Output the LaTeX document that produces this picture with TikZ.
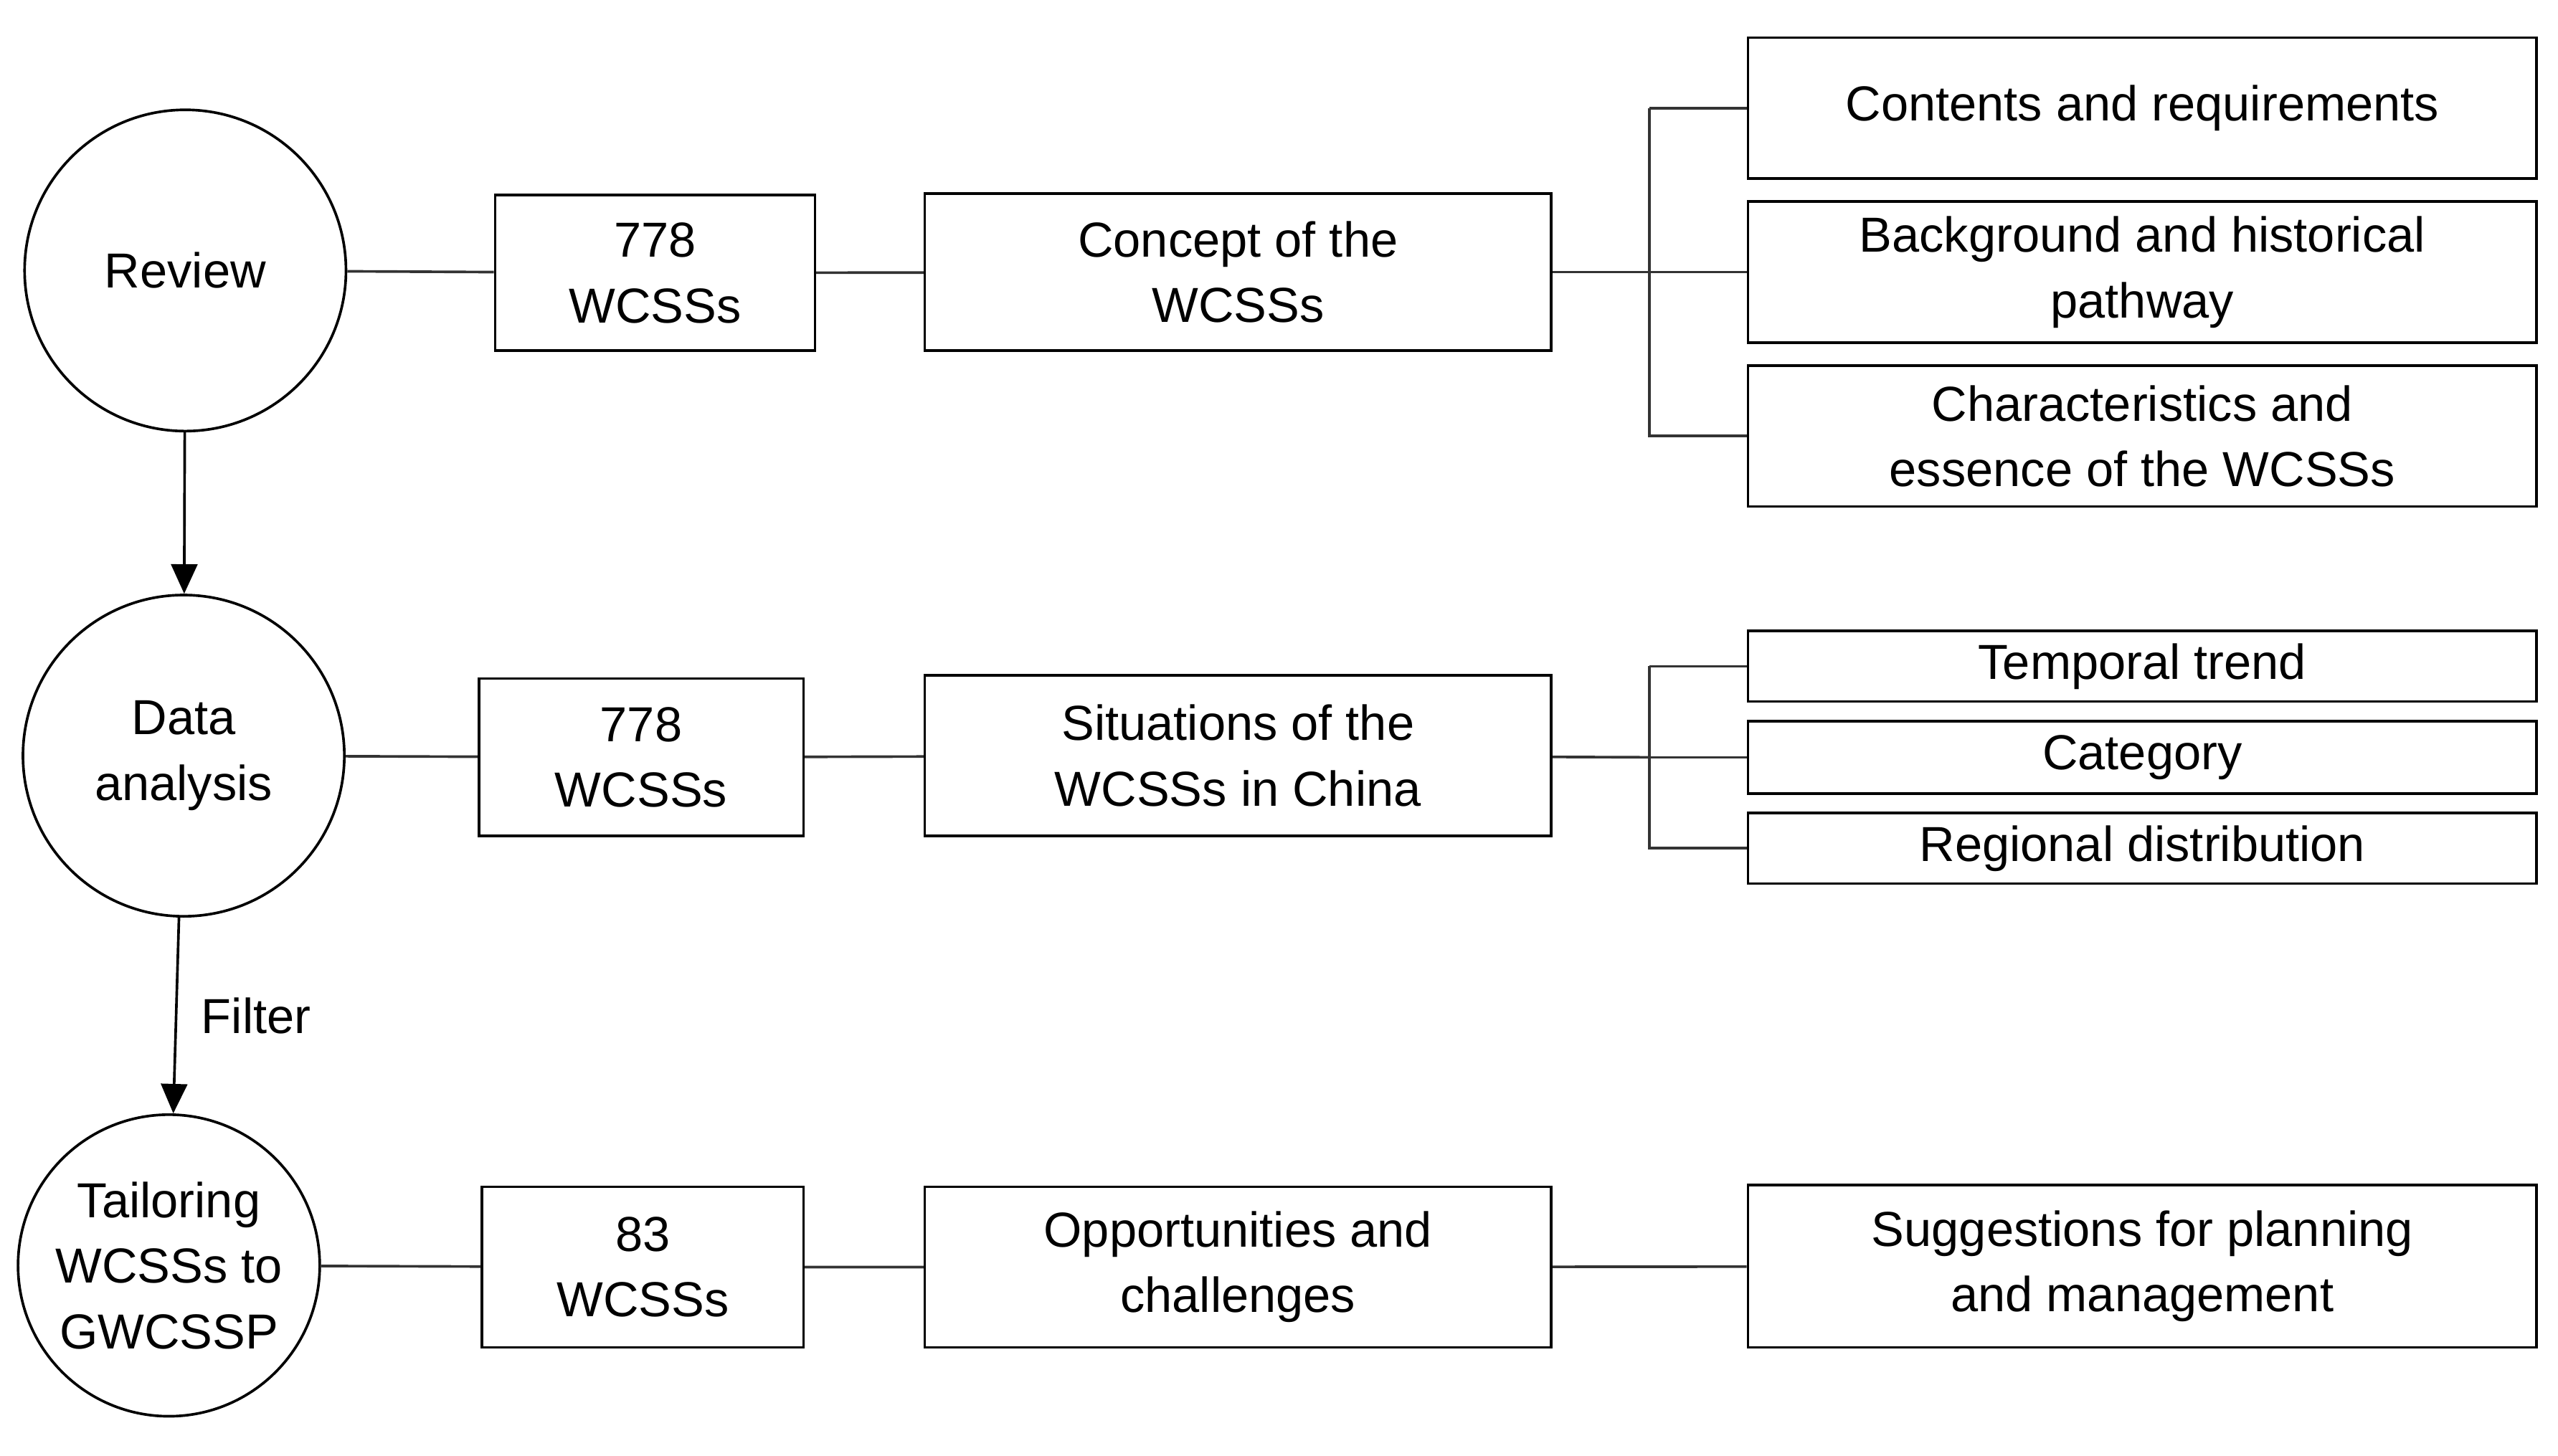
\documentclass[tikz,border=0pt]{standalone}
\usepackage{fontspec}
\setmainfont{Liberation Sans}
\usetikzlibrary{arrows.meta,positioning}
\tikzstyle{arrow} = [thick,-{Triangle[length=9pt,width=8pt]}]
\tikzstyle{stage} = [circle, draw, thick, align=center, minimum size=98pt, inner sep=0pt]
\tikzstyle{box} = [rectangle, draw, thick, align=center, text centered, inner sep=0pt]
\tikzstyle{link} = [thick, draw=black!80]
\begin{document}
\begin{tikzpicture}[x=0.5pt, y=-0.5pt, font=\fontsize{15}{20}\selectfont]
\useasboundingbox (0,0) rectangle (1560,888);
% Stages
\node (rev) [stage] at (113,165) {Review};
\node (dat) [stage] at (112,461) {Data\\analysis};
\node (tai) [stage, minimum size=92pt] at (103,772) {Tailoring\\WCSSs to\\GWCSSP};

% Row 1
\node (n1) [box, minimum width=97.5pt, minimum height=47.5pt] at (399.5,166.5) {778\\WCSSs};
\node (c1) [box, minimum width=191pt, minimum height=48pt] at (755,166) {Concept of the\\WCSSs};
\node (d1) [box, minimum width=240.5pt, minimum height=43pt] at (1306.5,66) {Contents and requirements};
\node (d2) [box, minimum width=240.5pt, minimum height=43pt] at (1306.5,166) {Background and historical\\pathway};
\node (d3) [box, minimum width=240.5pt, minimum height=43pt] at (1306.5,266) {Characteristics and\\essence of the WCSSs};

% Row 2
\node (n2) [box, minimum width=99pt, minimum height=48pt] at (391,462) {778\\WCSSs};
\node (c2) [box, minimum width=191pt, minimum height=49pt] at (755,461) {Situations of the\\WCSSs in China};
\node (e1) [box, minimum width=240.5pt, minimum height=21.5pt] at (1306.5,406.5) {Temporal trend};
\node (e2) [box, minimum width=240.5pt, minimum height=22pt] at (1306.5,462) {Category};
\node (e3) [box, minimum width=240.5pt, minimum height=21.5pt] at (1306.5,517.5) {Regional distribution};

% Row 3
\node (n3) [box, minimum width=98pt, minimum height=49pt] at (392,773) {83\\WCSSs};
\node (c3) [box, minimum width=191pt, minimum height=49pt] at (755,773) {Opportunities and\\challenges};
\node (s3) [box, minimum width=240.5pt, minimum height=49.5pt] at (1306.5,772.5) {Suggestions for planning\\and management};

% Connections
\draw[link] (rev) -- (n1) -- (c1);
\draw[link] (dat) -- (n2) -- (c2);
\draw[link] (tai) -- (n3) -- (c3) -- (s3);
\coordinate (b1) at (1006,166);
\coordinate (b2) at (1006,462);
\draw[link] (c1) -- (b1);
\draw[link] (b1 |- d1) -- (d1) (b1 |- d1) -- (b1 |- d3) -- (d3) (b1) -- (d2);
\draw[link] (c2) -- (b2);
\draw[link] (b2 |- e1) -- (e1) (b2 |- e1) -- (b2 |- e3) -- (e3) (b2) -- (e2);

% Flow
\draw[arrow] (rev) -- (dat);
\draw[arrow] (dat) -- node[right=4pt] {Filter} (tai);
\end{tikzpicture}
\end{document}
